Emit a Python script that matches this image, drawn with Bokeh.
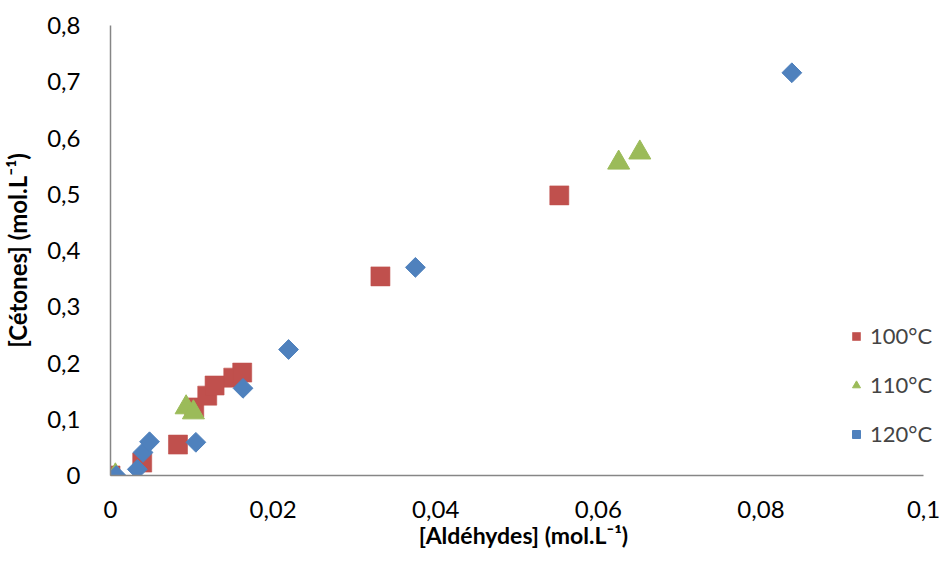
import math
from bokeh.plotting import figure
from bokeh.models import Range1d, Legend, LegendItem, FixedTicker, CustomJSTickFormatter
from bokeh.embed import file_html
from bokeh.resources import INLINE

# 100°C
x100 = [0.0, 0.0039, 0.0083, 0.0103, 0.0119, 0.0128, 0.0151, 0.0162, 0.0332, 0.0552]
y100 = [0.0, 0.023, 0.055, 0.121, 0.142, 0.160, 0.174, 0.183, 0.354, 0.498]
# 110°C
x110 = [0.0006, 0.0093, 0.0102, 0.0625, 0.0651]
y110 = [0.0, 0.121, 0.112, 0.556, 0.574]
# 120°C
x120 = [0.0007, 0.0033, 0.0040, 0.0048, 0.0105, 0.0163, 0.0219, 0.0375, 0.0838]
y120 = [0.0, 0.011, 0.041, 0.060, 0.059, 0.155, 0.224, 0.370, 0.716]

x_ticks = [0, 0.02, 0.04, 0.06, 0.08, 0.1]
y_ticks = [0, 0.1, 0.2, 0.3, 0.4, 0.5, 0.6, 0.7, 0.8]

FONT = "Lato"
FS = "24px"

W, H = 940, 554
LEFT, RIGHT, TOP, BOTTOM = 106, 4, 25, 79
# plot area reaches a little past 0.1 so the legend inside it is not clipped
x_end = 0.1 * (W - RIGHT - LEFT) / (923 - LEFT)
p = figure(width=W, height=H, output_backend="svg", toolbar_location=None,
           x_range=Range1d(0, x_end), y_range=Range1d(0, 0.8),
           min_border_left=LEFT, min_border_right=RIGHT, min_border_top=TOP, min_border_bottom=BOTTOM)
p.outline_line_color = None
p.grid.visible = False

fmt = CustomJSTickFormatter(code="return (Math.round(tick*1000)/1000).toString().replace('.', ',');")
for ax, ticks in ((p.xaxis[0], x_ticks), (p.yaxis[0], y_ticks)):
    ax.ticker = FixedTicker(ticks=ticks)
    ax.formatter = fmt
    ax.major_tick_line_color = None
    ax.minor_tick_line_color = None
    ax.axis_line_color = "#868686"
    ax.axis_line_width = 1.5
    ax.major_label_text_font = FONT
    ax.major_label_text_font_size = FS
    ax.major_label_text_color = "black"
    ax.axis_label_text_font = FONT
    ax.axis_label_text_font_style = "bold"
    ax.axis_label_text_color = "black"
p.xaxis[0].bounds = (0, 0.1)
p.xaxis.axis_label_text_font_size = "23px"
p.yaxis.axis_label_text_font_size = "24px"

p.xaxis.axis_label = "[Aldéhydes] (mol.L⁻¹)"
p.yaxis.axis_label = "[Cétones] (mol.L⁻¹)"
p.xaxis.major_label_standoff = 19
p.yaxis.major_label_standoff = 24
p.xaxis.axis_label_standoff = 0
p.yaxis.axis_label_standoff = 12

r1 = p.scatter(x100, y100, marker="square", size=19, fill_color="#C0504D", line_color="#C0504D", line_alpha=0.6)
r2 = p.scatter(x110, y110, marker="triangle", size=22, fill_color="#9BBB59", line_color="#9BBB59")
r3 = p.scatter(x120, y120, marker="square", size=14, angle=math.pi / 4,
               fill_color="#4F81BD", line_color="#4F81BD")

legend = Legend(items=[LegendItem(label="100°C", renderers=[r1]),
                       LegendItem(label="110°C", renderers=[r2]),
                       LegendItem(label="120°C", renderers=[r3])],
                location=(736, 27), background_fill_alpha=0, border_line_color=None,
                padding=0, margin=0, spacing=20, glyph_width=20, glyph_height=20,
                label_standoff=4, label_text_font=FONT, label_text_font_size="22px",
                label_height=29)
p.add_layout(legend, "center")

open("out.html", "w").write(file_html(p, INLINE))
